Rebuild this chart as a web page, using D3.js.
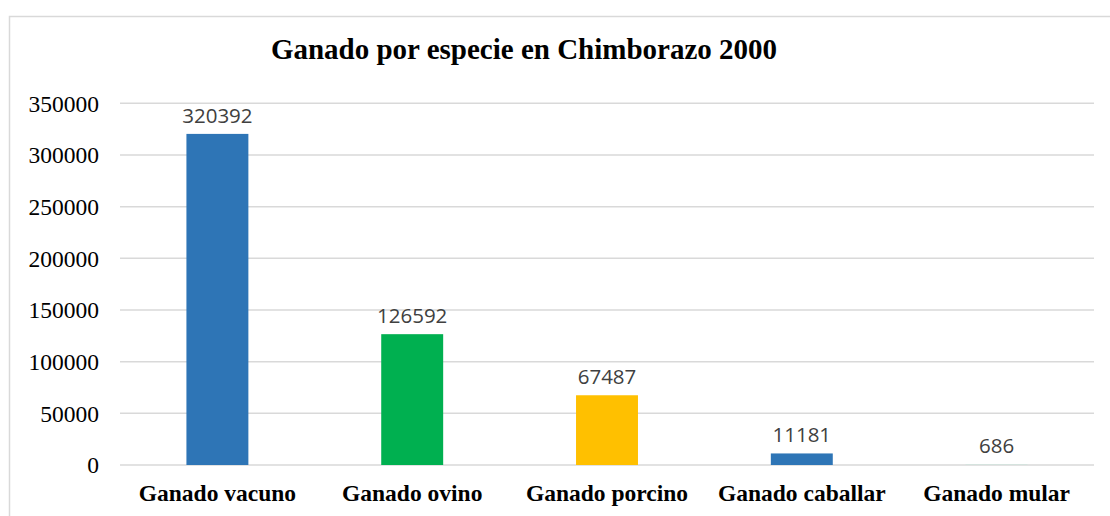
<!DOCTYPE html>
<html>
<head>
<meta charset="utf-8">
<script src="https://cdn.jsdelivr.net/npm/d3@7"></script>
<style>
  html, body { margin: 0; padding: 0; background: #fff; }
  svg { display: block; }
</style>
</head>
<body>
<svg id="chart" width="1110" height="516"></svg>
<script>
const categories = ["Ganado vacuno", "Ganado ovino", "Ganado porcino", "Ganado caballar", "Ganado mular"];
const values = [320392, 126592, 67487, 11181, 686];
const barColors = ["#2E75B6", "#00B050", "#FFC000", "#2E75B6", "#CFE3DC"];
const yTicks = [0, 50000, 100000, 150000, 200000, 250000, 300000, 350000];
const title = "Ganado por especie en Chimborazo 2000";

const SERIF = "'Liberation Serif', 'Times New Roman', serif";
const svg = d3.select("#chart");
const W = 1110, H = 516;
const plot = { left: 120, right: 1094, top: 103.3, bottom: 465 };

// frame
svg.append("rect")
  .attr("x", 9.5).attr("y", 16.5)
  .attr("width", W + 20).attr("height", H + 20)
  .attr("fill", "none").attr("stroke", "#d9d9d9").attr("stroke-width", 1.5);

const x = d3.scaleBand().domain(categories).range([plot.left, plot.right]).paddingInner(0.682).paddingOuter(0.341);
const y = d3.scaleLinear().domain([0, 350000]).range([plot.bottom, plot.top]);

// gridlines
svg.append("g").selectAll("line").data(yTicks).join("line")
  .attr("x1", plot.left).attr("x2", plot.right)
  .attr("y1", d => y(d)).attr("y2", d => y(d))
  .attr("stroke", "#d9d9d9").attr("stroke-width", 1.5);

// y axis labels
const yAxis = d3.axisLeft(y).tickValues(yTicks).tickSize(0).tickPadding(0).tickFormat(d3.format("d"));
const gy = svg.append("g").attr("transform", `translate(99,0)`).call(yAxis);
gy.attr("font-family", null).attr("font-size", null);
gy.select(".domain").remove();
gy.selectAll("text")
  .style("font-family", SERIF)
  .style("font-size", "23.5px").attr("fill", "#000").attr("dy", "0.33em");

// bars
svg.append("g").selectAll("rect").data(values).join("rect")
  .attr("x", (d, i) => x(categories[i]))
  .attr("width", x.bandwidth())
  .attr("y", d => y(d))
  .attr("height", d => y(0) - y(d))
  .attr("fill", (d, i) => barColors[i]);

// value labels
svg.append("g").selectAll("text").data(values).join("text")
  .attr("x", (d, i) => x(categories[i]) + x.bandwidth() / 2)
  .attr("y", d => y(d) - 11)
  .attr("text-anchor", "middle")
  .style("font-family", "'Open Sans', sans-serif")
  .style("font-size", "20.5px")
  .attr("fill", "#404040")
  .text(d => d);

// x axis labels
const xAxis = d3.axisBottom(x).tickSize(0).tickPadding(0);
const gx = svg.append("g").attr("transform", `translate(0,${plot.bottom})`).call(xAxis);
gx.attr("font-family", null).attr("font-size", null);
gx.select(".domain").remove();
gx.selectAll("text")
  .style("font-family", SERIF)
  .style("font-size", "23.5px").style("font-weight", "bold").attr("fill", "#000")
  .attr("y", 36).attr("dy", 0);

// title
svg.append("text")
  .attr("x", 524).attr("y", 59)
  .attr("text-anchor", "middle")
  .style("font-family", SERIF)
  .style("font-size", "29px").style("font-weight", "bold").attr("fill", "#000")
  .text(title);
</script>
</body>
</html>
